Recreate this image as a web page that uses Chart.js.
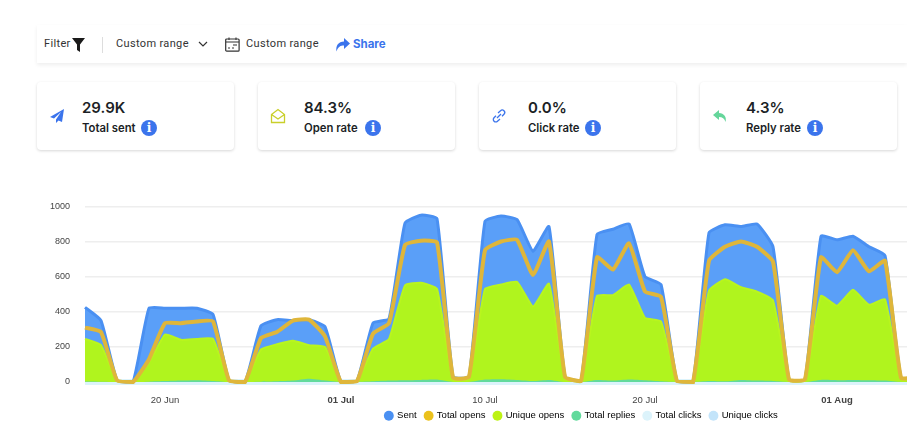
<!DOCTYPE html>
<html>
<head>
<meta charset="utf-8">
<script src="https://cdn.jsdelivr.net/npm/chart.js@4"></script>
<style>
html, body { margin: 0; padding: 0; background: #fff; width: 907px; height: 431px; overflow: hidden; font-family: Inter, sans-serif; color: #222; }
.abs { position: absolute; white-space: nowrap; }
.bar { position: absolute; left: 37px; top: 25px; width: 870px; height: 38px; background: #fff; box-shadow: 0 2px 4px rgba(0,0,0,.07); }
.tool { font-family: Roboto, sans-serif; font-size: 11px; letter-spacing: .35px; color: #333; line-height: 14px; }
.card { position: absolute; top: 82px; width: 197px; height: 68px; background: #fff; border-radius: 4px; box-shadow: 0 1px 3px rgba(0,0,0,.16); }
.val { position: absolute; left: 45px; top: 16px; font-size: 15px; font-weight: 600; color: #1c1f26; line-height: 19px; }
.lab { position: absolute; left: 45px; top: 39px; font-size: 11.3px; font-weight: 600; color: #1c1f26; line-height: 15px; }
.info { position: absolute; top: 38px; width: 16px; height: 16px; border-radius: 50%; background: #3b74ec; color: #fff; font: bold 12px/16px "DejaVu Serif", serif; text-align: center; }
.ico { position: absolute; left: 12px; top: 26px; }
#wrap { position: absolute; left: 37px; top: 186px; width: 1085px; height: 248px; }
</style>
</head>
<body>
<div class="bar"></div>
<div class="abs tool" style="left:44px;top:37px">Filter</div>
<svg class="abs" style="left:72px;top:38px" width="13" height="14" viewBox="0 0 13 14"><path d="M0 0H13L8 6.5V14L5 12V6.5Z" fill="#1a1a1a"/></svg>
<div class="abs" style="left:102px;top:37px;width:1px;height:16px;background:#ddd"></div>
<div class="abs tool" style="left:116px;top:37px">Custom range</div>
<svg class="abs" style="left:198px;top:41px" width="10" height="7" viewBox="0 0 10 7"><path d="M1 1L5 5L9 1" fill="none" stroke="#333" stroke-width="1.2"/></svg>
<svg class="abs" style="left:225px;top:37px" width="15" height="15" viewBox="0 0 15 15"><rect x=".7" y="2" width="13.4" height="12.2" rx="1" fill="none" stroke="#333" stroke-width="1.2"/><path d="M1 5H14M4 .5V3M11 .5V3" stroke="#333" stroke-width="1.1"/><path d="M8 8H12M3 11H5M7 11H9" stroke="#333" stroke-width="1.2"/></svg>
<div class="abs tool" style="left:246px;top:37px">Custom range</div>
<svg class="abs" style="left:335px;top:38px" width="15" height="14" viewBox="0 0 15 14"><path d="M9 0L15 5.5L9 11V7.5C5.5 7.5 3 8.5 1.5 13.5C.5 7.5 3.5 3.7 9 3.5Z" fill="#3b74ec"/></svg>
<div class="abs" style="left:353px;top:37px;font:bold 11.5px/14px Inter,sans-serif;color:#3b74ec">Share</div>

<div class="card" style="left:37px">
  <svg class="ico" width="16" height="16" viewBox="0 0 16 16"><path d="M15 1L1 9L5 10.5L12 4L7 11.5V15L9.5 12.5L13 14Z" fill="#3b74ec"/></svg>
  <div class="val">29.9K</div><div class="lab">Total sent</div><div class="info" style="left:104px">i</div>
</div>
<div class="card" style="left:258px">
  <svg class="ico" width="16" height="16" viewBox="0 0 16 16"><path d="M1.5 6.5L8 1.5L14.5 6.5V14.5H1.5ZM1.5 6.5L8 11L14.5 6.5" fill="none" stroke="#c9cf2b" stroke-width="1.3"/></svg>
  <div class="val" style="left:46px">84.3%</div><div class="lab" style="left:46px">Open rate</div><div class="info" style="left:107px">i</div>
</div>
<div class="card" style="left:479px">
  <svg class="ico" width="16" height="16" viewBox="0 0 16 16"><path d="M7 5L9.5 2.8A2.4 2.4 0 0 1 13 6.2L11 8.3M9 11L6.5 13.2A2.4 2.4 0 0 1 3 9.8L5 7.7M6 10L10 6" fill="none" stroke="#3b74ec" stroke-width="1.3"/></svg>
  <div class="val" style="left:49px">0.0%</div><div class="lab" style="left:49px">Click rate</div><div class="info" style="left:106px">i</div>
</div>
<div class="card" style="left:700px">
  <svg class="ico" width="16" height="16" viewBox="0 0 16 16"><path d="M7 2L1 7L7 12V9C10.5 9 12.5 10.5 13.5 14C15 9 12 5.3 7 5Z" fill="#65d69b"/></svg>
  <div class="val" style="left:46px">4.3%</div><div class="lab" style="left:46px">Reply rate</div><div class="info" style="left:107px">i</div>
</div>

<div id="wrap"><canvas id="myChart"></canvas></div>

<script>
// one label per day, the axis runs on past the right edge of the window
const days = [
  "15 Jun","16 Jun","17 Jun","18 Jun","19 Jun","20 Jun","21 Jun","22 Jun","23 Jun","24 Jun","25 Jun","26 Jun","27 Jun","28 Jun","29 Jun","30 Jun",
  "01 Jul","02 Jul","03 Jul","04 Jul","05 Jul","06 Jul","07 Jul","08 Jul","09 Jul","10 Jul","11 Jul","12 Jul","13 Jul","14 Jul","15 Jul","16 Jul",
  "17 Jul","18 Jul","19 Jul","20 Jul","21 Jul","22 Jul","23 Jul","24 Jul","25 Jul","26 Jul","27 Jul","28 Jul","29 Jul","30 Jul","31 Jul",
  "01 Aug","02 Aug","03 Aug","04 Aug","05 Aug","06 Aug","07 Aug","08 Aug","09 Aug","10 Aug","11 Aug","12 Aug","13 Aug","14 Aug","15 Aug",
  "16 Aug","17 Aug","18 Aug"
];
const sent = [
  425,350,10,0,420,420,420,420,385,10,0,320,355,350,355,315,
  0,5,335,360,905,950,930,30,30,915,945,925,745,885,30,5,
  840,870,900,600,555,5,0,850,895,885,900,770,15,15,830,
  810,830,770,720,25,25,0
];
const totalOpens = [
  310,285,10,0,130,335,335,345,345,10,0,250,285,350,355,260,
  0,5,275,335,780,805,795,25,30,750,800,810,610,800,30,5,
  710,640,790,515,485,5,0,690,770,800,770,685,15,15,710,
  625,750,630,690,25,25,0
];
const uniqueOpens = [
  245,210,5,0,110,270,240,245,245,5,0,185,215,235,210,200,
  0,3,190,245,550,565,530,15,20,530,555,570,430,560,20,3,
  490,495,555,365,345,3,0,520,585,540,515,465,8,8,490,
  435,525,440,470,15,15,0
];
const totalReplies = [
  3,2,0,0,2,5,8,10,6,0,0,2,4,8,18,8,
  0,0,4,8,10,12,14,0,0,14,16,12,6,12,0,0,
  12,8,14,10,4,0,0,6,4,12,8,6,0,0,12,
  10,12,10,8,0,0,0
];
const totalClicks = [
  0,0,0,0,0,0,0,0,0,0,0,0,0,0,0,0,0,0,0,0,0,0,0,0,0,0,0,
  0,0,0,0,0,0,0,0,0,0,0,0,0,0,0,0,0,0,0,0,0,0,0,0,0,0,0
];
const uniqueClicks = [
  0,0,0,0,0,0,0,0,0,0,0,0,0,0,0,0,0,0,0,0,0,0,0,0,0,0,0,
  0,0,0,0,0,0,0,0,0,0,0,0,0,0,0,0,0,0,0,0,0,0,0,0,0,0,0
];
const yTicks = [0, 200, 400, 600, 800, 1000];
const shownTicks = ["20 Jun", "01 Jul", "10 Jul", "20 Jul", "01 Aug"];
const boldTicks = ["01 Jul", "01 Aug"];

const ctx = document.getElementById("myChart");
Chart.defaults.font.family = "'Liberation Sans', Arial, sans-serif";
Chart.defaults.font.size = 10;
Chart.defaults.color = "#444";

function area(label, data, line, fill, width, order, swatch) {
  return {
    label: label,
    data: data,
    borderColor: line,
    backgroundColor: swatch,
    fill: fill ? { target: "origin", above: fill } : false,
    borderWidth: width,
    order: order,
    tension: 0.14,
    pointRadius: 0,
    clip: false,
  };
}

// legend sits a little closer to the axis labels than the layout allows
const legendNudge = {
  id: "legendNudge",
  afterLayout(chart) {
    chart.legend.top -= 3.5;
    chart.legend.left += 2;
    chart.legend.right += 2;
  },
};

const myChart = new Chart(ctx, {
  type: "line",
  plugins: [legendNudge],
  data: {
    labels: days,
    datasets: [
      area("Sent", sent, "#4a90f2", "#5a9ff8", 3, 4, "#4a90f2"),
      area("Total opens", totalOpens, "#dfb63a", null, 4, 0, "#ebc11c"),
      area("Unique opens", uniqueOpens, "#b9f51e", "#b0f41e", 2, 2, "#bdf214"),
      area("Total replies", totalReplies, "#62da9c", "#62da9c", 0, 1, "#62da9c"),
      area("Total clicks", totalClicks, "#dcf3fb", null, 6, 5, "#dcf3fb"),
      area("Unique clicks", uniqueClicks, "#c3e4fa", null, 0, 6, "#c3e4fa"),
    ],
  },
  options: {
    responsive: true,
    maintainAspectRatio: false,
    animation: false,
    plugins: {
      tooltip: { enabled: false },
      legend: {
        position: "bottom",
        labels: {
          usePointStyle: true,
          pointStyle: "circle",
          boxWidth: 7,
          boxHeight: 7,
          padding: 8.5,
          color: "#555",
          font: { size: 9.5 },
          generateLabels(chart) {
            return chart.data.datasets.map((d, i) => ({
              text: d.label,
              fillStyle: d.backgroundColor,
              strokeStyle: d.backgroundColor,
              lineWidth: 0,
              pointStyle: "circle",
              datasetIndex: i,
            }));
          },
        },
      },
    },
    scales: {
      x: {
        grid: { display: false, drawTicks: false },
        border: { display: false },
        afterFit(axis) { axis.height = 24; },
        ticks: {
          autoSkip: false,
          maxRotation: 0,
          padding: 13,
          color: "#444",
          callback(value) {
            const d = days[value];
            return shownTicks.includes(d) ? d : "";
          },
          font(c) {
            return { size: 9.5, weight: boldTicks.includes(days[c.index]) ? "bold" : "normal" };
          },
        },
      },
      y: {
        min: 0,
        max: 1000,
        afterFit(axis) { axis.width = 48; },
        afterBuildTicks(axis) { axis.ticks = yTicks.map((v) => ({ value: v })); },
        grid: { color: "#eeeeee", lineWidth: 1.5, drawTicks: false },
        border: { display: false },
        ticks: { padding: 15, color: "#444", font: { size: 9 }, callback: (v) => String(v) },
      },
    },
  },
});
</script>
</body>
</html>
